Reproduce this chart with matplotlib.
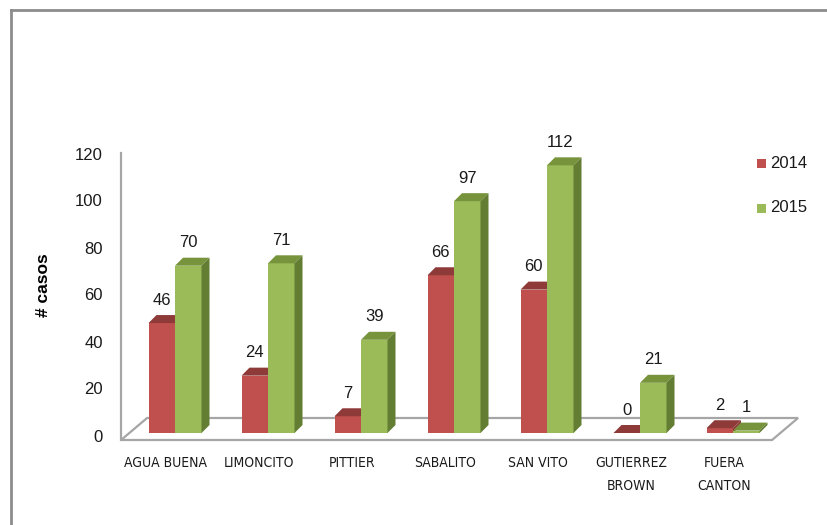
import matplotlib
matplotlib.use("Agg")
import matplotlib.pyplot as plt
from matplotlib import font_manager
from matplotlib.patches import Polygon, Rectangle
from matplotlib.lines import Line2D

categories = ["AGUA BUENA", "LIMONCITO", "PITTIER", "SABALITO", "SAN VITO",
              "GUTIERREZ\nBROWN", "FUERA\nCANTON"]
series_names = ["2014", "2015"]
cases_2014 = [46, 24, 7, 66, 60, 0, 2]
cases_2015 = [70, 71, 39, 97, 112, 21, 1]
y_ticks = [0, 20, 40, 60, 80, 100, 120]

# colours: front, top, side
red = ("#C0504D", "#8E3A38", "#8E3A38")
green = ("#9BBB59", "#77933C", "#637D32")

W, H = 827, 525
px_cat = 93.0      # pixels between category groups
px_val = 2.39      # pixels per case
x0_px, y0_px = 175, 433   # first group centre, bar base (pixels)

# a narrow font for the category names if one is installed
fonts = font_manager.fontManager.ttflist
names = {f.name for f in fonts}
if "Liberation Sans Narrow" in names:
    cat_font = dict(family="Liberation Sans Narrow", fontsize=11)
elif any(f.name == "DejaVu Sans" and "condensed" in str(f.stretch) for f in fonts):
    cat_font = dict(family="DejaVu Sans", fontstretch="condensed", fontsize=10)
else:
    cat_font = dict(family="Liberation Sans", fontsize=10)
cat_font["color"] = "#1a1a1a"

fig = plt.figure(figsize=(W / 100, H / 100), dpi=100)
ax = fig.add_axes([0, 0, 1, 1])
ax.set_xlim(-x0_px / px_cat, (W - x0_px) / px_cat)
ax.set_ylim((y0_px - H) / px_val, y0_px / px_val)
ax.axis("off")

bar_w = 26.5 / px_cat
dx, dy = 8 / px_cat, 8 / px_val          # bar depth
fdx, fdy = 26 / px_cat, 22 / px_val      # floor depth
floor_front = -7 / px_val

# outer chart border (runs off right/bottom)
fig.add_artist(Line2D([11 / W, 11 / W], [0, 1 - 10 / H], color="#8C8C8C", lw=2,
                      transform=fig.transFigure))
fig.add_artist(Line2D([11 / W, 1], [1 - 10 / H, 1 - 10 / H], color="#8C8C8C", lw=2,
                      transform=fig.transFigure))

# floor
xl = -0.58
xr = len(categories) - 0.58
floor = Polygon([(xl, floor_front), (xr, floor_front), (xr + fdx, floor_front + fdy),
                 (xl + fdx, floor_front + fdy)], closed=True, facecolor="white",
                edgecolor="#A6A6A6", lw=1.6, zorder=1)
ax.add_patch(floor)
# vertical axis line
ax.plot([xl, xl], [floor_front, 117.3], color="#A6A6A6", lw=1.6, zorder=1)


def bar3d(x, v, cols):
    f, t, s = cols
    ax.add_patch(Rectangle((x, 0), bar_w, v, facecolor=f, edgecolor="none", zorder=3))
    ax.add_patch(Polygon([(x, v), (x + bar_w, v), (x + bar_w + dx, v + dy), (x + dx, v + dy)],
                         closed=True, facecolor=t, edgecolor="none", zorder=3))
    ax.add_patch(Polygon([(x + bar_w, 0), (x + bar_w + dx, dy), (x + bar_w + dx, v + dy),
                          (x + bar_w, v)], closed=True, facecolor=s, edgecolor="none", zorder=3))


num_font = dict(family=["Liberation Sans", "DejaVu Sans"], fontsize=12, color="#1a1a1a")

for i, (a, b) in enumerate(zip(cases_2014, cases_2015)):
    bar3d(i - bar_w, a, red)
    bar3d(i, b, green)
    for xb, v in ((i - bar_w / 2, a), (i + bar_w / 2, b)):
        ax.annotate(str(v), (xb, v), xytext=(0, 16.5), textcoords="offset points",
                    ha="center", va="center", zorder=5, **num_font)
    ax.text(i - 9 / px_cat, (y0_px - 456) / px_val, categories[i], ha="center", va="top",
            linespacing=1.85, **cat_font)

# value axis tick labels
for t in y_ticks:
    ax.text(-72 / px_cat, (y0_px - (437 - 2.35 * t)) / px_val, str(t), ha="right",
            va="center", **num_font)

ax.text(-132 / px_cat, (y0_px - 285) / px_val, "# casos", rotation=90, ha="center",
        va="center", fontsize=12.5, fontweight="bold",
        family=["Liberation Sans", "DejaVu Sans"])

# legend
for k, (name, cols) in enumerate(zip(series_names, (red, green))):
    ly = 163 + 45 * k
    fig.add_artist(Rectangle((757 / W, 1 - (ly + 4.5) / H), 9 / W, 9 / H,
                             facecolor=cols[0], edgecolor="none",
                             transform=fig.transFigure))
    fig.text(770 / W, 1 - ly / H, name, ha="left", va="center", **num_font)

fig.savefig("out.png", dpi=100)
